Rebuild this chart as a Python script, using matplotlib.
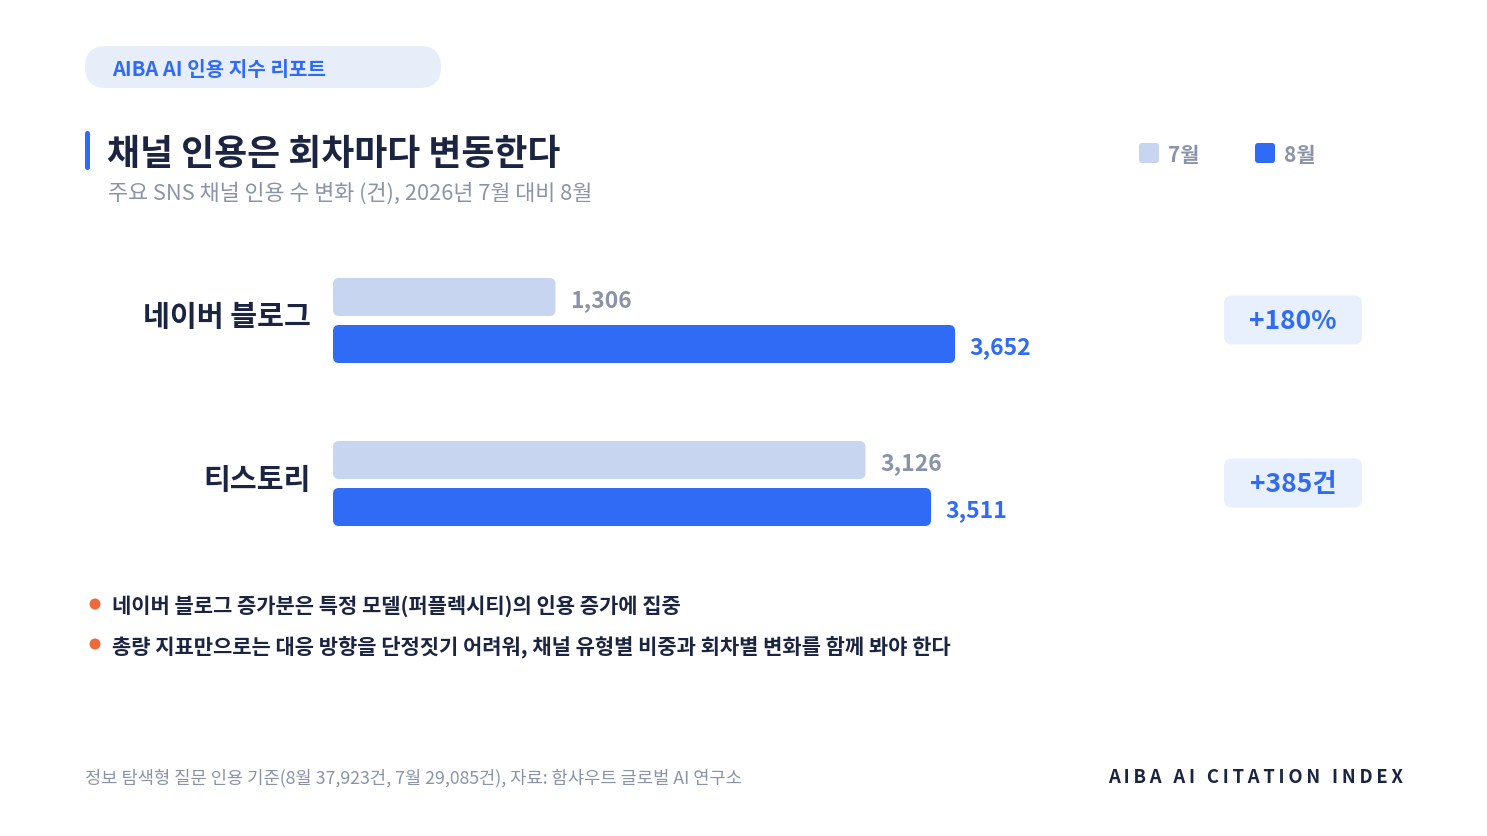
import matplotlib
matplotlib.use("Agg")
import matplotlib.pyplot as plt
from matplotlib.patches import FancyBboxPatch, Circle

plt.rcParams['font.family'] = ['Noto Sans CJK KR', 'DejaVu Sans']

# data
channels = ["네이버 블로그", "티스토리"]
july = [1306, 3126]
august = [3652, 3511]
badges = ["+180%", "+385건"]
series_names = ["7월", "8월"]
notes = [
    "네이버 블로그 증가분은 특정 모델(퍼플렉시티)의 인용 증가에 집중",
    "총량 지표만으로는 대응 방향을 단정짓기 어려워, 채널 유형별 비중과 회차별 변화를 함께 봐야 한다",
]

LIGHT = "#C8D5F0"
BLUE = "#2F6BF5"
NAVY = "#1B2440"
GRAY = "#8A93A8"
BADGE = "#E8F0FD"
ORANGE = "#EE6A3A"

W, H = 1487, 837
fig = plt.figure(figsize=(W / 100, H / 100), dpi=100)
fig.patch.set_facecolor("white")

# background axes in pixel units for the decorations
bg = fig.add_axes([0, 0, 1, 1])
bg.set_xlim(0, W)
bg.set_ylim(H, 0)
bg.axis("off")

bg.add_patch(FancyBboxPatch((85, 47), 356, 42, boxstyle="round,pad=0,rounding_size=21",
                            fc="#E8EEF9", ec="none"))
bg.text(112, 69, "AIBA AI 인용 지수 리포트", color=BLUE, fontsize=14.5,
        fontweight="bold", va="center", ha="left")

bg.add_patch(FancyBboxPatch((85, 132), 5, 39, boxstyle="round,pad=0,rounding_size=2.5",
                            fc=BLUE, ec="none"))
bg.text(107, 154.5, "채널 인용은 회차마다 변동한다", color=NAVY, fontsize=25.8,
        fontweight="bold", va="center", ha="left")
bg.text(108, 193.5, "주요 SNS 채널 인용 수 변화 (건), 2026년 7월 대비 8월", color=GRAY,
        fontsize=15.7, va="center", ha="left")

# legend
for x0, name, col in [(1139, series_names[0], LIGHT), (1255, series_names[1], BLUE)]:
    bg.add_patch(FancyBboxPatch((x0, 144), 20, 20, boxstyle="round,pad=0,rounding_size=3",
                                fc=col, ec="none"))
    bg.text(x0 + 29, 155, name, color=GRAY, fontsize=15, fontweight="bold",
            va="center", ha="left")

# notes
for i, note in enumerate(notes):
    y = 605 + 40 * i
    bg.add_patch(Circle((95, y), 5.5, fc=ORANGE, ec="none"))
    bg.text(112, y + 1.5, note, color=NAVY, fontsize=15.1, fontweight="bold",
            va="center", ha="left")

# footer
bg.text(85, 778, "정보 탐색형 질문 인용 기준(8월 37,923건, 7월 29,085건), 자료: 함샤우트 글로벌 AI 연구소",
        color=GRAY, fontsize=12.7, va="center", ha="left")
bg.text(1403, 777.5, "\u2009".join("AIBA AI CITATION INDEX"), color=NAVY, fontsize=13.3,
        fontweight="bold", va="center", ha="right")

# bar axes
ax_left, ax_right = 333, 1355
ax_top, ax_bot = 240, 560
row_c = 321.5
ax = fig.add_axes([ax_left / W, 1 - ax_bot / H, (ax_right - ax_left) / W, (ax_bot - ax_top) / H])
ax.set_xlim(0, 6000)
row_px = 163.0
ax.set_ylim((ax_bot - row_c) / row_px, (ax_top - row_c) / row_px)
ax.axis("off")

px_x = (ax_right - ax_left) / 6000.0
px_y = row_px
aspect = px_x / px_y
bar_h = 38 / row_px
off = 23.5 / row_px

for i, name in enumerate(channels):
    for val, col, dy, tcol in [(july[i], LIGHT, -off, GRAY), (august[i], BLUE, off, BLUE)]:
        yc = i + dy
        ax.add_patch(FancyBboxPatch((0, yc - bar_h / 2), val, bar_h,
                                    boxstyle="round,pad=0,rounding_size=%f" % (6 / px_x),
                                    mutation_aspect=aspect, fc=col, ec="none"))
        ax.annotate(f"{val:,}", (val, yc + 2.5 / row_px), xytext=(10.5, 0),
                    textcoords="offset points", color=tcol, fontsize=16.5,
                    fontweight="bold", va="center", ha="left")
    ax.annotate(name, (0, i - 0.03), xytext=(-16, 0), textcoords="offset points",
                color=NAVY, fontsize=21, fontweight="bold", va="center", ha="right")
    # badge
    bx = (1224 - ax_left) / px_x
    ax.add_patch(FancyBboxPatch((bx, i - 25 / row_px), 138 / px_x, 49 / row_px,
                                boxstyle="round,pad=0,rounding_size=%f" % (8 / px_x),
                                mutation_aspect=aspect, fc=BADGE, ec="none",
                                clip_on=False))
    ax.text((1293 - ax_left) / px_x, i, badges[i], color=BLUE, fontsize=19,
            fontweight="bold", va="center", ha="center")

fig.savefig("out.png", dpi=100, facecolor="white")
